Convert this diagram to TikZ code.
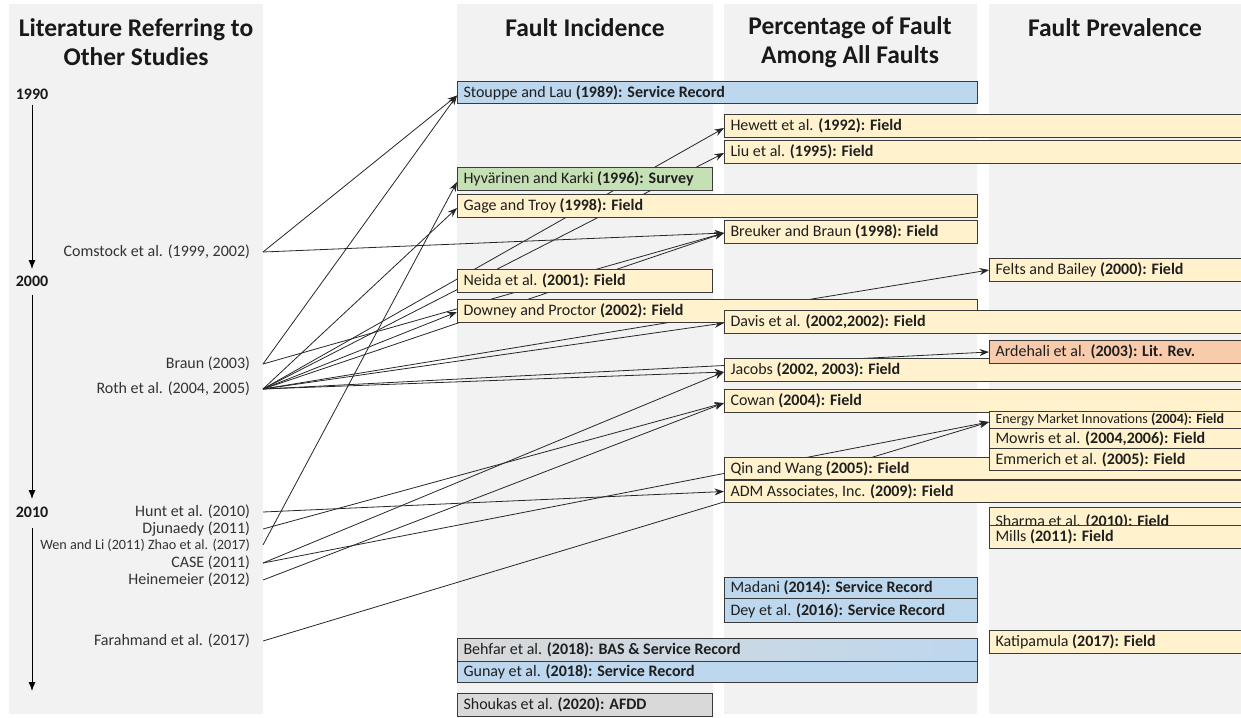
\documentclass[tikz,border=0pt]{standalone}
\usepackage{fontspec}
\setmainfont{Carlito}
\usetikzlibrary{arrows.meta,calc}
\definecolor{bgc}{HTML}{F2F2F2}
\definecolor{bluec}{HTML}{BDD7EE}
\definecolor{yelc}{HTML}{FFF2CC}
\definecolor{grnc}{HTML}{C5E0B4}
\definecolor{orgc}{HTML}{F8CBAD}
\definecolor{gryc}{HTML}{D9D9D9}
\definecolor{brd}{HTML}{3A3A3A}
\pgfdeclarelayer{bglayer}
\pgfdeclarelayer{midlayer}
\pgfsetlayers{bglayer,midlayer,main}
\newcommand\bxfont{\fontsize{16pt}{18pt}\selectfont}
\newcommand\mkbox[7]{\node[bx, minimum width=#4pt, minimum height=#5pt, fill=#6] (#1) at (#2,#3) {\makebox[\dimexpr#4pt-12pt\relax][l]{#7}};}
\begin{document}
\begin{tikzpicture}[x=1pt,y=-1pt,
  bx/.style={draw=brd, line width=1pt, anchor=north west, inner xsep=6pt, inner ysep=0pt, font=\bxfont, text=black!88},
  hdr/.style={font=\fontsize{25.5pt}{29pt}\selectfont\bfseries, align=center, text=black!90, inner sep=0pt},
  yr/.style={font=\fontsize{16pt}{18pt}\selectfont\bfseries, inner sep=0pt, text=black!90},
  lab/.style={font=\fontsize{16pt}{18pt}\selectfont, text=black!80, anchor=east, inner sep=0pt, outer xsep=13pt},
  tl/.style={line width=0.9pt, -{Latex[length=9pt,width=7pt]}},
  conn/.style={draw=black!85, line width=0.8pt, -{Stealth[length=9.5pt,width=7pt]}}]
\useasboundingbox (0,0) rectangle (1241,717);
\begin{pgfonlayer}{bglayer}
\fill[bgc] (9,4) rectangle (263,714);
\fill[bgc] (457,4) rectangle (713,714);
\fill[bgc] (724,4) rectangle (977,714);
\fill[bgc] (989,4) rectangle (1241,714);
\end{pgfonlayer}
% headers
\node[hdr] (h1) at (136,42) {Literature Referring to\\Other Studies};
\node[hdr] (h2) at (585,28) {Fault Incidence};
\node[hdr] (h3) at (850,42) {Percentage of Fault\\Among All Faults};
\node[hdr] (h4) at (1115,28) {Fault Prevalence};
% timeline
\node[yr] (y1990) at (32,94) {1990};
\node[yr] (y2000) at (32,281) {2000};
\node[yr] (y2010) at (32,512) {2010};
\coordinate (t1) at (32,269);
\coordinate (t2) at (32,499);
\coordinate (t3) at (32,691);
\draw[tl] ($(y1990.south)+(0,5)$) -- (t1);
\draw[tl] ($(y2000.south)+(0,8)$) -- (t2);
\draw[tl] ($(y2010.south)+(0,10)$) -- (t3);
% left labels
\node[lab] (comstock) at (263,252) {Comstock et al. (1999, 2002)};
\node[lab] (braun) at (263,364) {Braun (2003)};
\node[lab] (roth) at (263,389) {Roth et al. (2004, 2005)};
\node[lab] (hunt) at (263,512) {Hunt et al. (2010)};
\node[lab] (djun) at (263,529) {Djunaedy (2011)};
\node[lab, font=\fontsize{14.2pt}{16pt}\selectfont] (wen) at (263,545) {Wen and Li (2011) Zhao et al. (2017)};
\node[lab] (case) at (263,563) {CASE (2011)};
\node[lab] (heine) at (263,580) {Heinemeier (2012)};
\node[lab] (farah) at (263,641) {Farahmand et al. (2017)};
% boxes
\mkbox{stouppe}{457}{81}{520}{22}{bluec}{Stouppe and Lau \textbf{(1989): Service Record}}
\mkbox{hewett}{724}{114}{522}{23}{yelc}{Hewett et al. \textbf{(1992): Field}}
\mkbox{liu}{724}{140}{522}{23}{yelc}{Liu et al. \textbf{(1995): Field}}
\mkbox{hyv}{457}{167}{255}{23}{grnc}{Hyvärinen and Karki \textbf{(1996): Survey}}
\mkbox{gage}{457}{194}{520}{23}{yelc}{Gage and Troy \textbf{(1998): Field}}
\mkbox{breuker}{724}{220}{253}{23}{yelc}{Breuker and Braun \textbf{(1998): Field}}
\mkbox{felts}{989}{258}{257}{23}{yelc}{Felts and Bailey \textbf{(2000): Field}}
\mkbox{neida}{457}{269}{255}{23}{yelc}{Neida et al. \textbf{(2001): Field}}
\mkbox{downey}{457}{299}{520}{23}{yelc}{Downey and Proctor \textbf{(2002): Field}}
\mkbox{davis}{724}{310}{522}{23}{yelc}{Davis et al. \textbf{(2002,2002): Field}}
\mkbox{jacobs}{724}{358}{522}{23}{yelc}{Jacobs \textbf{(2002, 2003): Field}}
\mkbox{ardehali}{989}{340}{257}{23}{orgc}{Ardehali et al. \textbf{(2003): Lit. Rev.}}
\mkbox{cowan}{724}{389}{522}{23}{yelc}{Cowan \textbf{(2004): Field}}
\mkbox{emi}{989}{411}{257}{17}{yelc}{\fontsize{14pt}{14pt}\selectfont Energy Market Innovations \textbf{(2004): Field}}
\mkbox{mowris}{989}{428}{257}{20}{yelc}{Mowris et al. \textbf{(2004,2006): Field}}
\mkbox{qin}{724}{457}{522}{22}{yelc}{Qin and Wang \textbf{(2005): Field}}
\mkbox{emmerich}{989}{448}{257}{22}{yelc}{Emmerich et al. \textbf{(2005): Field}}
\mkbox{adm}{724}{480}{522}{22}{yelc}{ADM Associates, Inc. \textbf{(2009): Field}}
\mkbox{sharma}{989}{507}{257}{20}{yelc}{\raisebox{-4pt}[\height][\depth]{Sharma et al. \textbf{(2010): Field}}}
\mkbox{mills}{989}{525}{257}{23}{yelc}{Mills \textbf{(2011): Field}}
\mkbox{madani}{724}{577}{253}{21}{bluec}{Madani \textbf{(2014): Service Record}}
\mkbox{dey}{724}{598}{253}{24}{bluec}{Dey et al. \textbf{(2016): Service Record}}
\mkbox{katip}{989}{630}{257}{23}{yelc}{Katipamula \textbf{(2017): Field}}
\node[bx, minimum width=520pt, minimum height=23pt, left color=gryc, right color=bluec] (behfar) at (457,638) {\makebox[508pt][l]{Behfar et al. \textbf{(2018): BAS \& Service Record}}};
\mkbox{gunay}{457}{661}{520}{21}{bluec}{Gunay et al. \textbf{(2018): Service Record}}
\mkbox{shoukas}{457}{693}{255}{23}{gryc}{Shoukas et al. \textbf{(2020): AFDD}}
% connectors
\begin{pgfonlayer}{midlayer}
\draw[conn] (comstock.east) -- ($(stouppe.west)+(0,3)$);
\draw[conn] (comstock.east) -- ($(breuker.west)+(0,1)$);
\draw[conn] (braun.east) -- ($(stouppe.west)+(0,3)$);
\draw[conn] (braun.east) -- ($(breuker.west)+(0,1)$);
\draw[conn] (roth.east) -- ($(gage.west)+(0,2)$);
\draw[conn] (roth.east) -- ($(hewett.west)+(0,2)$);
\draw[conn] (roth.east) -- ($(liu.west)+(0,1)$);
\draw[conn] (roth.east) -- ($(breuker.west)+(0,1)$);
\draw[conn] (roth.east) -- ($(downey.west)+(0,1)$);
\draw[conn] (roth.east) -- ($(davis.west)+(0,1)$);
\draw[conn] (roth.east) -- (felts.west);
\draw[conn] (roth.east) -- ($(jacobs.west)+(0,2)$);
\draw[conn] (roth.east) -- (ardehali.west);
\draw[conn] (hunt.east) -- (adm.west);
\draw[conn] (djun.east) -- ($(cowan.west)+(0,2)$);
\draw[conn] (wen.east) -- ($(hyv.west)+(0,3)$);
\draw[conn] (case.east) -- ($(jacobs.west)+(0,2)$);
\draw[conn] (case.east) -- ($(emi.west)+(0,2)$);
\draw[conn] (heine.east) -- ($(cowan.west)+(0,2)$);
\draw[conn] (farah.east) -- ($(emi.west)+(0,2)$);
\end{pgfonlayer}
\end{tikzpicture}
\end{document}
